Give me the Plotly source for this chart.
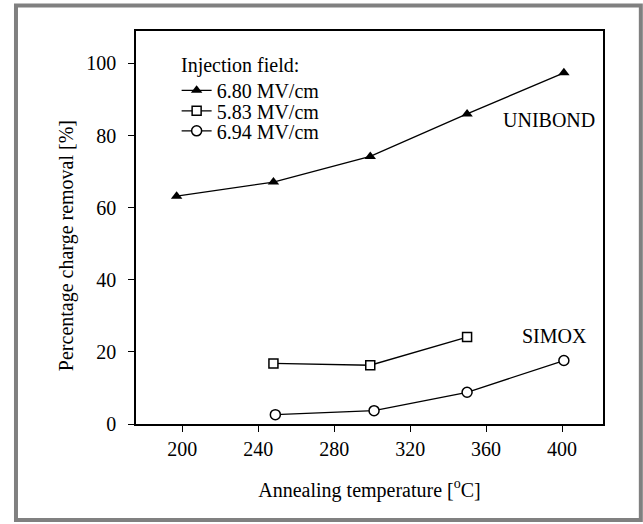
import plotly.graph_objects as go

# Data
temp_680 = [197, 248, 299, 350, 401]
removal_680 = [63.2, 67.1, 74.2, 86.0, 97.4]

temp_583 = [248, 299, 350]
removal_583 = [16.8, 16.3, 24.1]

temp_694 = [249, 301, 350, 401]
removal_694 = [2.6, 3.7, 8.8, 17.6]

series_names = ["6.80 MV/cm", "5.83 MV/cm", "6.94 MV/cm"]
x_ticks = [200, 240, 280, 320, 360, 400]
y_ticks = [0, 20, 40, 60, 80, 100]

FONT = "Liberation Serif"
FS = 20

fig = go.Figure()
fig.add_trace(go.Scatter(
    x=temp_680, y=removal_680, name=series_names[0], mode="lines+markers",
    line=dict(color="black", width=1.3), legend="legend",
    marker=dict(symbol="triangle-up", size=10, color="black"),
))
fig.add_trace(go.Scatter(
    x=temp_583, y=removal_583, name=series_names[1], mode="lines+markers",
    line=dict(color="black", width=1.3), legend="legend2",
    marker=dict(symbol="square", size=9, color="white", line=dict(color="black", width=1.5)),
))
fig.add_trace(go.Scatter(
    x=temp_694, y=removal_694, name=series_names[2], mode="lines+markers",
    line=dict(color="black", width=1.3), legend="legend3",
    marker=dict(symbol="circle", size=10, color="white", line=dict(color="black", width=1.5)),
))

def leg(y):
    return dict(
        x=0.087, y=y, xanchor="left", yanchor="middle",
        bgcolor="rgba(0,0,0,0)", borderwidth=0,
        font=dict(family=FONT, size=FS, color="black"),
        itemwidth=30,
    )

fig.update_layout(
    width=643, height=524,
    margin=dict(l=136, r=40, t=31, b=100),
    paper_bgcolor="white", plot_bgcolor="white",
    font=dict(family=FONT, size=FS, color="black"),
    showlegend=True,
    legend=leg(0.849),
    legend2=leg(0.797),
    legend3=leg(0.746),
    xaxis=dict(
        range=[175.6, 421.6], tickvals=x_ticks, ticks="outside", ticklen=6,
        tickwidth=1.2, tickcolor="black",
        tickfont=dict(family=FONT, size=FS, color="black"),
        showline=True, linecolor="black", linewidth=1.5, mirror=True,
        showgrid=False, zeroline=False,
        title=dict(text="Annealing temperature [<sup>o</sup>C]", standoff=24,
                   font=dict(family=FONT, size=FS, color="black")),
    ),
    yaxis=dict(
        range=[0, 109], tickvals=y_ticks, ticks="outside", ticklen=6,
        tickwidth=1.2, tickcolor="black", ticklabelstandoff=8,
        tickfont=dict(family=FONT, size=FS, color="black"),
        showline=True, linecolor="black", linewidth=1.5, mirror=True,
        showgrid=False, zeroline=False,
    ),
    annotations=[
        dict(text="Percentage charge removal [%]", xref="paper", yref="paper",
             x=-0.150, y=0.455, textangle=-90, showarrow=False,
             xanchor="center", yanchor="middle", font=dict(family=FONT, size=FS)),
        dict(text="Injection field:", xref="paper", yref="paper", x=0.092, y=0.913,
             showarrow=False, xanchor="left", yanchor="middle",
             font=dict(family=FONT, size=FS)),
        dict(text="UNIBOND", xref="x", yref="y", x=393, y=84.4, showarrow=False,
             xanchor="center", yanchor="middle", font=dict(family=FONT, size=FS)),
        dict(text="SIMOX", xref="x", yref="y", x=396, y=24.3, showarrow=False,
             xanchor="center", yanchor="middle", font=dict(family=FONT, size=FS)),
    ],
    shapes=[
        dict(type="rect", xref="paper", yref="paper",
             x0=-0.257, x1=1.081, y0=-0.244, y1=1.065,
             line=dict(color="#808080", width=4), fillcolor="rgba(0,0,0,0)", layer="below"),
    ],
)

fig.write_html("out.html")
